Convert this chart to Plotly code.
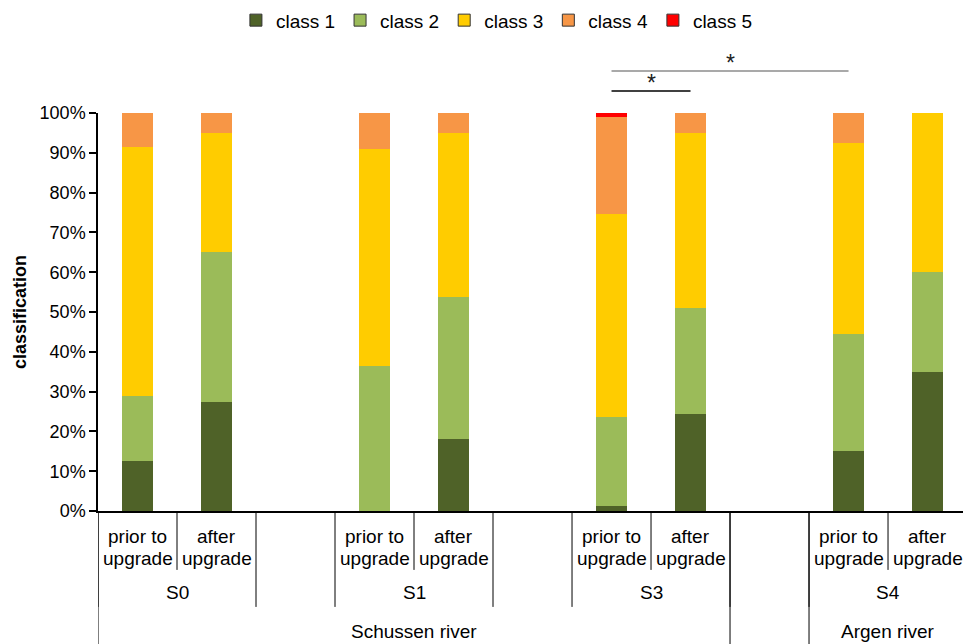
import plotly.graph_objects as go

# ---- data ----
classes = ["class 1", "class 2", "class 3", "class 4", "class 5"]
colors = ["#4F6228", "#9BBB59", "#FFCC00", "#F79646", "#FF0000"]
stations = ["S0", "S1", "S3", "S4"]
periods = [["prior to", "upgrade"], ["after", "upgrade"]]
rivers = ["Schussen river", "Argen river"]
river_stations = [["S0", "S1", "S3"], ["S4"]]

# one value per bar: S0 prior, S0 after, S1 prior, S1 after, S3 prior, S3 after, S4 prior, S4 after
class1 = [12.5, 27.5, 0.0, 18.0, 1.2, 24.4, 15.0, 35.0]
class2 = [16.5, 37.5, 36.4, 35.7, 22.5, 26.7, 29.5, 25.0]
class3 = [62.5, 30.0, 54.5, 41.2, 51.0, 44.0, 48.0, 40.0]
class4 = [8.5, 5.0, 9.1, 5.1, 24.2, 4.9, 7.5, 0.0]
class5 = [0.0, 0.0, 0.0, 0.0, 1.1, 0.0, 0.0, 0.0]
series = [class1, class2, class3, class4, class5]

# significance comparisons: (station, period index) pairs
sig_pairs = [(("S3", 0), ("S3", 1)), (("S3", 0), ("S4", 0))]

FONT = "Liberation Sans, Arial, sans-serif"

# slot layout: each station takes 2 slots, followed by one empty slot
station_start = {s: 3 * i for i, s in enumerate(stations)}
xs = [station_start[s] + j for s in stations for j in range(len(periods))]

fig = go.Figure()
for name, col, vals in zip(classes, colors, series):
    fig.add_trace(go.Bar(x=xs, y=vals, name=name, width=0.39, legendgroup=name, showlegend=False,
                         marker=dict(color=col, line=dict(width=0)),
                         hovertemplate="%{y}%<extra>" + name + "</extra>"))
# legend entries (outlined swatches, no data)
for name, col in zip(classes, colors):
    fig.add_trace(go.Bar(x=[None], y=[None], name=name, legendgroup=name, showlegend=True,
                         marker=dict(color=col, line=dict(width=1, color="#333333"))))

shapes = []
annotations = []
Y1, Y2, Y3 = -0.148, -0.241, -0.34
line = dict(color="black", width=1)
lab_font = dict(size=19, color="black", family=FONT)

# level 1 + level 2 dividers and labels
for s in stations:
    st = station_start[s]
    for j, p in enumerate(periods):
        for txt, yy in zip(p, (-0.0653, -0.119)):
            annotations.append(dict(x=st + j, y=yy, xref="x", yref="paper", text=txt,
                                    showarrow=False, font=lab_font, yanchor="middle"))
    shapes.append(dict(type="line", xref="x", yref="paper", x0=st + 0.5, x1=st + 0.5, y0=0, y1=Y1, line=line))
    for b in (st - 0.5, st + 1.5):
        shapes.append(dict(type="line", xref="x", yref="paper", x0=b, x1=b, y0=0, y1=Y2, line=line))
    annotations.append(dict(x=st + 0.5, y=-0.205, xref="x", yref="paper", text=s,
                            showarrow=False, font=lab_font, yanchor="middle"))

# level 3 (rivers)
for r, sts in zip(rivers, river_stations):
    left = station_start[sts[0]] - 0.5
    right = station_start[sts[-1]] + len(periods) - 0.5
    for b in (left, right):
        shapes.append(dict(type="line", xref="x", yref="paper", x0=b, x1=b, y0=0, y1=Y3, line=line))
    annotations.append(dict(x=(left + right) / 2, y=-0.302, xref="x", yref="paper", text=r,
                            showarrow=False, font=lab_font, yanchor="middle"))

# significance bars
sig_y = [1.0553, 1.1055]
sig_col = ["black", "#8C8C8C"]
for (a, b), yy, c in zip(sig_pairs, sig_y, sig_col):
    xa = station_start[a[0]] + a[1]
    xb = station_start[b[0]] + b[1]
    shapes.append(dict(type="line", xref="x", yref="paper", x0=xa, x1=xb, y0=yy, y1=yy,
                       line=dict(color=c, width=1.5)))
    annotations.append(dict(x=(xa + xb) / 2, y=yy, xref="x", yref="paper", text="*",
                            showarrow=False, yanchor="bottom", yshift=-7,
                            font=dict(size=23, color="#222222", family=FONT)))

fig.update_layout(
    width=963, height=644,
    margin=dict(l=98, r=0, t=113, b=133),
    paper_bgcolor="white", plot_bgcolor="white",
    barmode="stack",
    font=dict(family=FONT, size=18, color="black"),
    showlegend=True,
    legend=dict(orientation="h", xref="container", yref="container", x=0.516, y=0.998,
                xanchor="center", yanchor="top", font=dict(size=19, family=FONT),
                itemwidth=30, tracegroupgap=0, traceorder="normal"),
    xaxis=dict(range=[-0.5, 10.449], showticklabels=False, ticks="", showgrid=False,
               zeroline=False, showline=True, linecolor="black", linewidth=1.5, fixedrange=True),
    yaxis=dict(range=[0, 100], dtick=10, ticksuffix="%", ticks="outside", ticklen=7,
               tickcolor="black", tickwidth=1.5, showline=True, linecolor="black", linewidth=1.5,
               showgrid=False, zeroline=False,
               title=dict(text="<b>classification</b>", font=dict(size=18), standoff=8),
               tickfont=dict(size=18)),
    shapes=shapes,
    annotations=annotations,
)

fig.write_html("out.html", config={"displayModeBar": False},
               post_script="document.body.style.margin='0';")
